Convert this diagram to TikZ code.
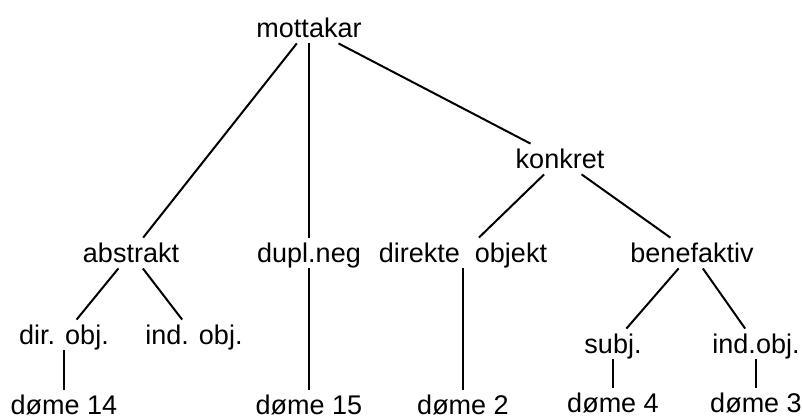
\documentclass[tikz,border=0pt]{standalone}
\usepackage{fontspec}
\setmainfont{Liberation Sans}
\begin{document}
\begin{tikzpicture}[x=0.5pt,y=-0.5pt,
  lbl/.style={inner sep=0pt, text height=12pt, text depth=3pt, anchor=base,
              font=\fontsize{13.5}{16}\selectfont},
  edge/.style={line width=1pt}]
\useasboundingbox (0,0) rectangle (802,419);
% nodes (x, baseline)
\node[lbl] (mot) at (309,37) {mottakar};
\node[lbl] (kon) at (560,168) {konkret};
\node[lbl] (abs) at (131,262) {abstrakt};
\node[lbl] (dup) at (309,262) {dupl.neg};
\node[lbl] (dir) at (463,262) {direkte~~objekt};
\node[lbl] (ben) at (692,262) {benefaktiv};
\node[lbl] (dobj) at (64,344) {dir. obj.};
\node[lbl] (iobj) at (194,344) {ind. obj.};
\node[lbl] (subj) at (613,353) {subj.};
\node[lbl] (iobj2) at (756,353) {ind.obj.};
\node[lbl] (d14) at (64,414) {døme 14};
\node[lbl] (d15) at (309,414) {døme 15};
\node[lbl] (d2) at (463,414) {døme 2};
\node[lbl] (d4) at (613,412) {døme 4};
\node[lbl] (d3) at (756,412) {døme 3};
% connectors
\draw[edge] (mot) -- (abs);
\draw[edge] (mot) -- (dup);
\draw[edge] (mot) -- (kon);
\draw[edge] (kon) -- (dir);
\draw[edge] (kon) -- (ben);
\draw[edge] (abs) -- (dobj);
\draw[edge] (abs) -- (iobj);
\draw[edge] (ben) -- (subj);
\draw[edge] (ben) -- (iobj2);
\draw[edge] (dobj) -- (d14);
\draw[edge] (dup) -- (d15);
\draw[edge] (dir) -- (d2);
\draw[edge] (subj) -- (d4);
\draw[edge] (iobj2) -- (d3);
\end{tikzpicture}
\end{document}
